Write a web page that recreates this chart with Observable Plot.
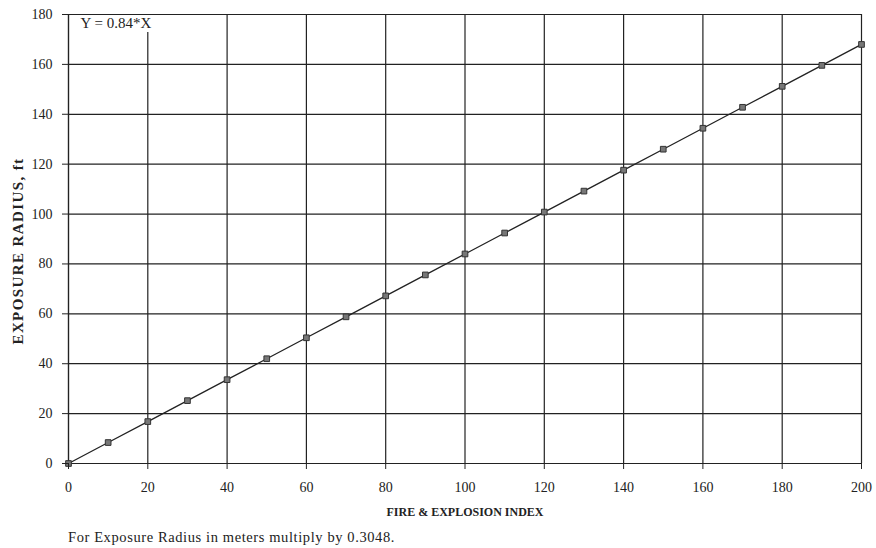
<!DOCTYPE html>
<html><head><meta charset="utf-8">
<script src="https://cdn.jsdelivr.net/npm/d3@7"></script>
<script src="https://cdn.jsdelivr.net/npm/@observablehq/plot@0.6"></script>
<style>
body{margin:0;background:#fff;font-family:"Liberation Serif","Times New Roman",serif;}
#cap{margin:1px 0 0 68px;font-size:14.5px;letter-spacing:0.6px;color:#222;line-height:18px;}
</style></head><body>
<div id="chart"></div>
<div id="cap">For Exposure Radius in meters multiply by 0.3048.</div>
<script>
const fireIndex = [0,10,20,30,40,50,60,70,80,90,100,110,120,130,140,150,160,170,180,190,200];
const exposureRadius = [0,8.4,16.8,25.2,33.6,42,50.4,58.8,67.2,75.6,84,92.4,100.8,109.2,117.6,126,134.4,142.8,151.2,159.6,168];
const xTicks = [0,20,40,60,80,100,120,140,160,180,200];
const yTicks = [0,20,40,60,80,100,120,140,160,180];
const fitLabel = ["Y = 0.84*X"];

const data = fireIndex.map((x,i)=>({x, y: exposureRadius[i]}));

const plot = Plot.plot({
  width: 876, height: 527,
  marginLeft: 68, marginRight: 15, marginTop: 14, marginBottom: 64,
  style: {fontFamily: '"Liberation Serif","Times New Roman",serif', fontSize: "14px", color: "#222", background: "#fff"},
  x: {domain: [0,200]},
  y: {domain: [0,180]},
  marks: [
    Plot.gridX(xTicks, {stroke: "#222", strokeOpacity: 1, strokeWidth: 1.2}),
    Plot.text(fitLabel, {frameAnchor: "top-left", dx: 12, dy: 3, text: d=>d, fontSize: 15, fill: "#222", stroke: "white", strokeWidth: 8, textAnchor: "start"}),
    Plot.gridY(yTicks, {stroke: "#222", strokeOpacity: 1, strokeWidth: 1.2}),
    Plot.ruleY([0], {stroke: "#222", strokeWidth: 1.2}),
    Plot.ruleX([0], {stroke: "#222", strokeWidth: 1.2}),
    Plot.line(data, {x: "x", y: "y", stroke: "#222", strokeWidth: 1.3}),
    Plot.dot(data, {x: "x", y: "y", symbol: "square", r: 3.2, fill: "#777", stroke: "#333", strokeWidth: 1}),
    Plot.axisX({ticks: xTicks, tickSize: 6, tickPadding: 13, fontSize: 14, label: "FIRE & EXPLOSION INDEX", labelAnchor: "center", labelOffset: 52, labelArrow: "none"}),
    Plot.axisY({ticks: yTicks, tickSize: 6, tickPadding: 10, fontSize: 14, label: "EXPOSURE RADIUS, ft", labelAnchor: "center", labelOffset: 56, labelArrow: "none"})
  ]
});
plot.querySelectorAll('[aria-label="x-axis label"] text').forEach(t=>{t.style.fontWeight="bold";t.style.fontSize="12px";});
plot.querySelectorAll('[aria-label="y-axis label"] text').forEach(t=>{
  t.style.fontWeight="bold";t.style.fontSize="15px";t.style.letterSpacing="1.4px";
  const tr = t.getAttribute("transform") || "";
  t.setAttribute("transform", "translate(0,12) " + tr);
});
document.getElementById("chart").appendChild(plot);
</script>
</body></html>
